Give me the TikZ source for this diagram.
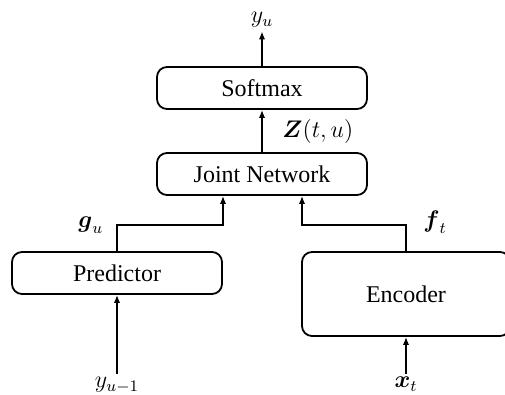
\documentclass[tikz,border=0pt]{standalone}
\usepackage{amsmath}
\usepackage{fontspec}
\setmainfont{Liberation Serif}
\usetikzlibrary{arrows.meta}
\begin{document}
\begin{tikzpicture}[x=0.5pt,y=-0.5pt,
  box/.style={draw, rounded corners=5pt, line width=0.9pt, minimum width=105pt, minimum height=21pt, inner sep=0pt, font=\fontsize{12}{14}\selectfont},
  arr/.style={-{Latex[length=4pt,width=3.2pt]}, line width=0.9pt},
  lbl/.style={inner sep=1pt, text height=6pt, text depth=3pt, font=\fontsize{12}{14}\selectfont}]
\clip (0,0) rectangle (505,395);
\node[box] (soft) at (262,88) {Softmax};
\node[box] (joint) at (262,174) {Joint Network};
\node[box] (pred) at (117,273) {Predictor};
\node[box, minimum width=104pt, minimum height=42pt] (enc) at (406,294) {Encoder};
\node[lbl, anchor=base] (yu) at (262,23) {$y_u$};
\node[lbl, anchor=base west] (zl) at (280,138) {$\boldsymbol{Z}(t,u)$};
\node[lbl, anchor=base west, inner sep=0pt] (gl) at (78,228) {$\boldsymbol{g}_u$};
\node[lbl, anchor=base west, inner sep=0pt] (fl) at (423,228) {$\boldsymbol{f}_t$};
\node[lbl, anchor=base] (yin) at (117,388) {$y_{u-1}$};
\node[lbl, anchor=base] (xin) at (406,388) {$\boldsymbol{x}_t$};
\draw[arr] (soft.north) -- (yu.south);
\draw[arr] (joint.north) -- (soft.south);
\draw[arr] (pred.north) |- ([xshift=-19.5pt,yshift=-14.5pt]joint.south) -- ([xshift=-19.5pt]joint.south);
\draw[arr] (enc.north) |- ([xshift=20pt,yshift=-14.5pt]joint.south) -- ([xshift=20pt]joint.south);
\draw[arr] (yin.north) -- (pred.south);
\draw[arr] (xin.north) -- (enc.south);
\end{tikzpicture}
\end{document}
